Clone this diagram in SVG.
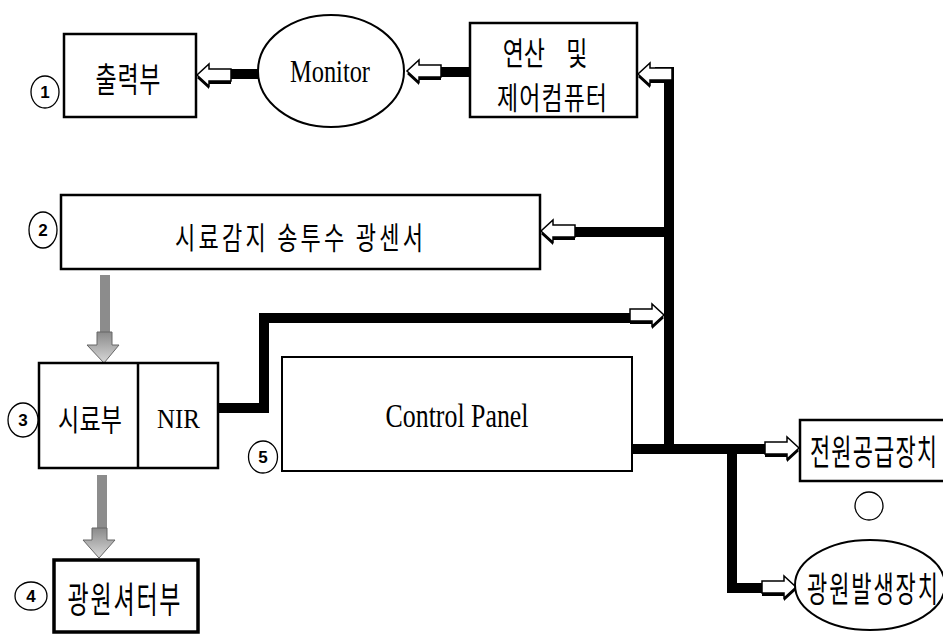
<svg xmlns="http://www.w3.org/2000/svg" xmlns:xlink="http://www.w3.org/1999/xlink" width="943" height="635" viewBox="0 0 943 635">
<style>
.box{fill:#fff;stroke:#000;stroke-width:2.5}
.thick{fill:#fff;stroke:#000;stroke-width:3.5}
.ell{fill:#fff;stroke:#000;stroke-width:2}
.num{fill:#fff;stroke:#000;stroke-width:1.3}
.numt{font-family:"Liberation Sans",Arial,sans-serif;font-size:17px;font-weight:bold;text-anchor:middle;dominant-baseline:central;fill:#000}
.kr{font-family:"Noto Sans CJK KR","Noto Sans",sans-serif;font-weight:400;text-anchor:middle;dominant-baseline:central;fill:#000}
.en{font-family:"Liberation Serif","Times New Roman",serif;text-anchor:middle;fill:#000}
.bus{fill:none;stroke:#000;stroke-width:10;stroke-linejoin:miter;stroke-linecap:butt}
.garrow{fill:url(#gg);stroke:#666;stroke-width:1}
</style>
<defs>
<linearGradient id="gg" x1="0" y1="0" x2="0" y2="1">
<stop offset="0" stop-color="#8a8a8a"/>
<stop offset="1" stop-color="#d8d8d8"/>
</linearGradient>
<g id="ha">
<polygon points="-34,-6 -12,-6 -12,-11 0,0 -12,11 -12,6 -34,6" transform="translate(0,3)" fill="#000"/>
<polygon points="-34,-6 -12,-6 -12,-11 0,0 -12,11 -12,6 -34,6" fill="#fff" stroke="#000" stroke-width="1.5"/>
</g>
</defs>

<g id="connectors">
<line class="bus" x1="258" y1="74" x2="222" y2="74"/>
<line class="bus" x1="471" y1="72" x2="430" y2="72"/>
<polyline class="bus" points="669,454 669,72 655,72"/>
<line class="bus" x1="669" y1="232" x2="560" y2="232"/>
<polyline class="bus" points="218,408 264,408 264,318 650,318"/>
<line class="bus" x1="632" y1="449" x2="785" y2="449"/>
<polyline class="bus" points="732,449 732,588 782,588"/>
<use xlink:href="#ha" transform="translate(197,75) scale(-1,1)"/>
<use xlink:href="#ha" transform="translate(407,71) scale(-1,1)"/>
<use xlink:href="#ha" transform="translate(638,74) scale(-1,1)"/>
<use xlink:href="#ha" transform="translate(541,231) scale(-1,1)"/>
<use xlink:href="#ha" transform="translate(664,315)"/>
<use xlink:href="#ha" transform="translate(799,448)"/>
<use xlink:href="#ha" transform="translate(796,587)"/>
<rect x="100" y="275" width="10" height="57" fill="#8c8c8c"/>
<polygon class="garrow" points="97,332 112,332 112,345 119,345 104,363 87,345 97,345"/>
<rect x="97" y="475" width="10" height="53" fill="#8c8c8c"/>
<polygon class="garrow" points="92,528 107,528 107,540 115,540 99,558 83,540 92,540"/>
</g>

<g id="n1">
<rect class="box" x="64" y="34" width="132" height="83"/>
<text class="kr" font-size="23" textLength="65" lengthAdjust="spacing" transform="translate(128,77) scale(1,1.5)">출력부</text>
<ellipse class="num" cx="45" cy="92" rx="14" ry="16"/>
<text class="numt" x="45" y="92">1</text>
</g>

<g id="monitor">
<ellipse class="ell" cx="331" cy="71" rx="73" ry="56"/>
<text class="en" font-size="24" textLength="80" lengthAdjust="spacingAndGlyphs" transform="translate(330,82) scale(1,1.35)">Monitor</text>
</g>

<g id="computer">
<rect class="box" x="470" y="23" width="167" height="94"/>
<text class="kr" font-size="23" style="word-spacing:16px" transform="translate(545,51) scale(1,1.36)">연산 및</text>
<text class="kr" font-size="23" textLength="110" lengthAdjust="spacing" transform="translate(552,96) scale(1,1.33)">제어컴퓨터</text>
</g>

<g id="n2">
<rect class="box" x="61" y="195" width="479" height="74"/>
<text class="kr" font-size="22" textLength="248" lengthAdjust="spacing" transform="translate(299,236) scale(1,1.38)">시료감지 송투수 광센서</text>
<ellipse class="num" cx="43" cy="230" rx="14" ry="18"/>
<text class="numt" x="43" y="230">2</text>
</g>

<g id="n3">
<rect class="box" x="39" y="363" width="179" height="105"/>
<line x1="138" y1="363" x2="138" y2="468" stroke="#000" stroke-width="2.5"/>
<text class="kr" font-size="23" textLength="64" lengthAdjust="spacing" transform="translate(90,418) scale(1,1.32)">시료부</text>
<text class="en" font-size="24" textLength="43" lengthAdjust="spacingAndGlyphs" transform="translate(178.5,428) scale(1,1.18)">NIR</text>
<ellipse class="num" cx="23" cy="420" rx="15" ry="17"/>
<text class="numt" x="23" y="420">3</text>
</g>

<g id="n4">
<rect class="thick" x="54" y="560" width="144" height="72"/>
<text class="kr" font-size="23" textLength="113" lengthAdjust="spacing" transform="translate(124,598) scale(1,1.56)">광원셔터부</text>
<ellipse class="num" cx="31" cy="596" rx="16" ry="14"/>
<text class="numt" x="31" y="596">4</text>
</g>

<g id="n5">
<rect class="ell" x="282" y="357" width="350" height="114"/>
<text class="en" font-size="26" textLength="143" lengthAdjust="spacingAndGlyphs" transform="translate(457,427) scale(1,1.28)">Control Panel</text>
<ellipse class="num" cx="263" cy="457" rx="14.5" ry="16"/>
<text class="numt" x="263" y="457">5</text>
</g>

<g id="power">
<rect class="box" x="800" y="420" width="160" height="61"/>
<text class="kr" font-size="22" textLength="127" lengthAdjust="spacing" transform="translate(873.5,450) scale(1,1.62)">전원공급장치</text>
</g>

<g id="blank-circle">
<circle cx="869" cy="506" r="14" fill="#fff" stroke="#000" stroke-width="1.3"/>
</g>

<g id="light">
<ellipse class="ell" cx="870" cy="585" rx="75" ry="45"/>
<text class="kr" font-size="22" textLength="131" lengthAdjust="spacing" transform="translate(872.5,587) scale(1,1.62)">광원발생장치</text>
</g>
</svg>
